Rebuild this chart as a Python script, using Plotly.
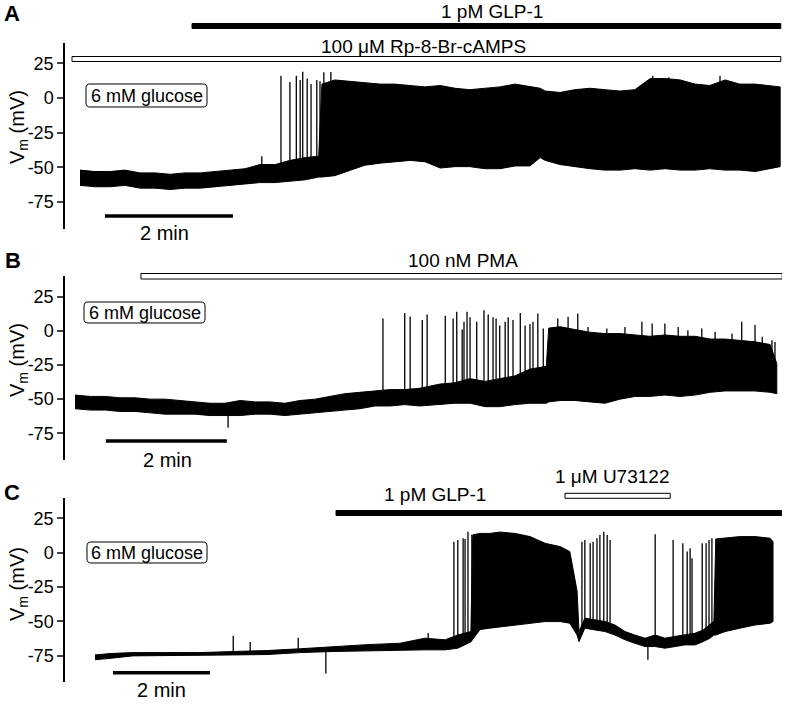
import plotly.graph_objects as go

# ---------------- data (time in min, Vm in mV) ----------------
a_time = [0, 0.23, 0.47, 0.70, 0.94, 1.17, 1.41, 1.64, 1.88, 2.11, 2.34, 2.58, 2.81, 3.05, 3.28, 3.52, 3.73, 3.78,
          3.98, 4.22, 4.45, 4.69, 4.92, 5.16, 5.39, 5.63, 5.86, 6.09, 6.33, 6.56, 6.80, 7.03, 7.19, 7.27, 7.50, 7.73,
          7.97, 8.20, 8.44, 8.67, 8.91, 9.14, 9.38, 9.61, 9.84, 10.08, 10.31, 10.55, 10.78, 10.94]
a_low = [-63, -64, -64, -63, -65, -65, -66, -65, -65, -64, -63, -62, -61, -61, -60, -59, -57, -57, -56, -52,
         -48.5, -47, -46, -45, -46, -50.5, -49.5, -49.5, -51, -51, -49, -49, -43, -45, -48, -49.5, -51, -52, -52, -51,
         -52, -51, -52, -52, -51, -52, -52, -53, -51, -49.5]
a_high = [-52, -53, -53, -52, -54, -54, -55, -54, -54, -53, -52, -51, -48, -48, -45, -43, -42, 10, 13, 12,
          11, 10, 10, 9, 8, 9, 7, 6, 7, 8, 10, 8, 7, 5, 4, 6, 7, 6, 5, 6,
          14, 14, 13, 10, 9, 13, 10, 10, 9, 8]
a_spike_t = [2.84, 3.14, 3.28, 3.38, 3.44, 3.48, 3.55, 3.61, 3.70, 3.75, 3.81, 3.92, 4.05, 8.95, 9.20, 10.0]
a_spike_base = [-52, -50, -50, -50, -49, -49, -49, -48, -48, -48, -48, -45, -45, -45, -45, -45]
a_spike_peak = [-42, 16, 11.5, 16, 13, 19, 14, 10, 13, 12, 18.5, 18.7, 13, 16, 15, 16]

b_time = [0, 0.25, 0.50, 0.74, 0.99, 1.24, 1.49, 1.74, 1.98, 2.23, 2.48, 2.73, 2.98, 3.22, 3.47, 3.72, 3.97,
          4.21, 4.46, 4.71, 4.96, 5.21, 5.45, 5.70, 6.03, 6.28, 6.53, 6.78, 7.02, 7.27, 7.52, 7.79, 7.83, 8.02,
          8.26, 8.51, 8.76, 9.01, 9.26, 9.50, 9.75, 10.00, 10.25, 10.50, 10.74, 10.99, 11.24, 11.49, 11.60]
b_low = [-57, -58, -58, -59, -59, -60, -61, -61, -61, -62, -62, -62, -61, -61, -62, -61, -60, -59, -58, -57,
         -55, -55, -54, -55, -54, -53, -53, -55.5, -55.5, -54, -53, -53, -52, -51, -51, -52, -53, -50, -48, -48,
         -47, -48, -47, -45, -44, -44, -44, -45, -46]
b_high = [-47, -48, -48, -49, -49, -50, -50, -51, -52, -53, -53, -51, -52, -52, -53, -51, -50, -48, -46, -45,
          -44, -43, -43, -42, -39, -38, -35, -37, -35, -33, -28, -26, 2, 3, 1, -1, -2, -2, -3, -4,
          -3, -4, -4, -6, -6, -7, -8, -10, -24]
b_spike_t = [2.53, 5.09, 5.45, 5.54, 5.74, 5.82, 6.12, 6.25, 6.31, 6.40, 6.43, 6.48, 6.53, 6.64, 6.76, 6.83,
             6.91, 6.96, 7.02, 7.11, 7.16, 7.24, 7.36, 7.44, 7.52, 7.57, 7.65, 7.74,
             7.98, 8.15, 8.31, 8.48, 8.79, 9.09, 9.37, 9.54, 9.75, 9.97, 10.13, 10.36, 10.58, 10.86, 11.02,
             11.24, 11.36, 11.52, 11.57]
b_spike_base = [-58, -45, -44, -44, -44, -44, -42, -42, -42, -40, -40, -40, -40, -40, -40, -40,
                -40, -40, -38, -38, -38, -38, -35, -35, -33, -33, -30, -28,
                -40, -40, -40, -40, -40, -40, -40, -40, -40, -40, -40, -40, -40, -40, -40,
                -40, -40, -40, -40]
b_spike_peak = [-71, 9, 13, 10.5, 8, 12, 11, 9, 14, 1, 6.6, 14, 10, 6.6, 15, 12,
                10, 9, 4, 6.6, 10, 8, 13, 4, 5, 6.6, 12.7, 1.7,
                9.1, 10.3, 12.7, 2.9, 1.7, 2.9, 6.6, 5.3, 5.3, 2.9, 0.5, 1.7, -0.7, -2, 6.6,
                4.2, -4.4, -6.9, -8.1]

c_time = [0, 0.31, 0.78, 1.48, 2.16, 2.85, 3.55, 4.23, 4.91, 5.61, 6.29, 6.80, 7.22, 7.48, 7.75, 7.79, 7.94,
          8.14, 8.35, 8.66, 8.97, 9.28, 9.59, 9.79, 9.94, 9.98, 10.10, 10.31, 10.52, 10.72, 10.93, 11.13, 11.34,
          11.55, 11.75, 11.96, 12.16, 12.37, 12.54, 12.68, 12.76, 12.80, 12.99, 13.30, 13.61, 13.92, 13.98]
c_low = [-78, -77, -75.2, -75.2, -74.7, -74.5, -74.2, -72.8, -72, -71.5, -71, -70.8, -70.8, -69.6, -65, -63, -56,
         -55, -54, -52.7, -51.4, -50.2, -50.2, -51.4, -60, -64.8, -55, -56.3, -57.5, -60, -63.5, -66, -68.4,
         -68.4, -69.6, -68.4, -67.2, -67.2, -64.8, -62.3, -60, -60, -57.5, -55, -52.7, -51.4, -50.2]
c_high = [-74.5, -73.5, -72.8, -73, -72.8, -72, -71.3, -70, -68.4, -67, -66, -62.3, -63.5, -60, -57.5, 13, 14,
          14, 15, 14, 11.7, 6.8, 4.4, 0.8, -28, -57.5, -47.7, -49, -50.2, -52.7, -57.5, -60, -62.3,
          -60, -62.3, -61, -60, -58.7, -56.3, -52.7, -50, 10, 10.5, 11.7, 11.7, 10.5, 8]
c_spike_t = [2.85, 3.20, 4.19, 4.76, 6.87, 7.40, 7.48, 7.59, 7.63, 7.69, 7.77,
             10.04, 10.10, 10.21, 10.27, 10.35, 10.41, 10.49, 10.56, 10.62,
             11.40, 11.55, 11.92, 12.12, 12.21, 12.27, 12.31, 12.52, 12.60, 12.66, 12.72]
c_spike_base = [-73, -72, -70, -70, -66, -62, -62, -61, -61, -60, -60,
                -55, -55, -55, -55, -56, -56, -57, -57, -58,
                -65, -64, -65, -64, -64, -64, -64, -62, -62, -60, -60]
c_spike_peak = [-60.6, -65, -62, -88, -58.5, 8, 9.2, 10.4, 10, 15.3, 13,
                8, 9.2, 6.8, 8, 10.5, 12.9, 15.3, 12.9, 9.2,
                -78, 13.4, 9.2, 6.8, 0.8, 3.2, -4, 6.8, 6.8, 9.2, 10.5]

# treatments
a_treat_label = ["1 pM GLP-1", "100 μM Rp-8-Br-cAMPS"]
a_treat_start = [1.75, -0.125]
a_treat_end = [10.95, 10.95]
a_treat_filled = [True, False]
b_treat_label = ["100 nM PMA"]
b_treat_start = [1.09]
b_treat_end = [11.69]
b_treat_filled = [False]
c_treat_label = ["1 pM GLP-1", "1 μM U73122"]
c_treat_start = [4.97, 9.69]
c_treat_end = [14.16, 11.86]
c_treat_filled = [True, False]

tick_vals = [-75, -50, -25, 0, 25]
tick_text = ["-75", "-50", "-25", "0", "25"]
scale_bar_min = 2
condition_text = "6 mM glucose"
panel_letters = ["A", "B", "C"]

# ---------------- layout geometry (pixels) ----------------
W, H = 785, 724
ML, MR = 65, 3
PW = W - ML - MR
FONT = "Liberation Sans, Arial, Helvetica, sans-serif"


def fx(X):
    return (X - ML) / PW


def fy(Y):
    return 1 - Y / H


panels = [
    dict(t=a_time, lo=a_low, hi=a_high, st=a_spike_t, sb=a_spike_base, sp=a_spike_peak,
         x0px=80, pxmin=64, yr=[-94.46, 39.64], ypx=(43, 229),
         tl=a_treat_label, ts=a_treat_start, te=a_treat_end, tf=a_treat_filled,
         barpx=[(23.5, 28.5), (56.5, 61.5)], txt=[(492, 12), (423, 46)],
         sb_start=0.39, sb_y=-85.1, sbtxt=(164, 233), gbox=(86, 84, 207, 107), letter=(12, 13), ytitle=(18, 127)),
    dict(t=b_time, lo=b_low, hi=b_high, st=b_spike_t, sb=b_spike_base, sp=b_spike_peak,
         x0px=75, pxmin=60.5, yr=[-94.55, 40.15], ypx=(276, 460),
         tl=b_treat_label, ts=b_treat_start, te=b_treat_end, tf=b_treat_filled,
         barpx=[(273.5, 279)], txt=[(463, 261)],
         sb_start=0.51, sb_y=-80.6, sbtxt=(167, 460), gbox=(84, 302, 205, 323), letter=(13, 260), ytitle=(18, 360)),
    dict(t=c_time, lo=c_low, hi=c_high, st=c_spike_t, sb=c_spike_base, sp=c_spike_peak,
         x0px=95, pxmin=48.5, yr=[-94.0, 39.8], ypx=(498, 681.7),
         tl=c_treat_label, ts=c_treat_start, te=c_treat_end, tf=c_treat_filled,
         barpx=[(510.5, 515.5), (493.3, 498.3)], txt=[(435, 494), (612, 477)],
         sb_start=0.37, sb_y=-87.4, sbtxt=(161, 690), gbox=(87, 542, 207, 563), letter=(12, 492), ytitle=(18, 584)),
]

fig = go.Figure()
shapes = []
annotations = []


def note(X, Y, text, size, angle=0):
    annotations.append(dict(x=fx(X), y=fy(Y), xref="paper", yref="paper", text=text, showarrow=False,
                            xanchor="center", yanchor="middle", textangle=angle,
                            font=dict(size=size, color="black", family=FONT)))


for i, p in enumerate(panels):
    k = "" if i == 0 else str(i + 1)
    xa, ya = "x" + k, "y" + k
    # membrane potential envelope
    fig.add_trace(go.Scatter(
        x=list(p["t"]) + list(p["t"])[::-1],
        y=list(p["hi"]) + list(p["lo"])[::-1],
        fill="toself", fillcolor="black", mode="lines",
        line=dict(color="black", width=1), xaxis=xa, yaxis=ya, hoverinfo="skip", showlegend=False))
    # individual action potentials
    sx, sy = [], []
    for t, b, pk in zip(p["st"], p["sb"], p["sp"]):
        sx += [t, t, None]
        sy += [b, pk, None]
    fig.add_trace(go.Scatter(x=sx, y=sy, mode="lines", line=dict(color="black", width=1.3),
                             xaxis=xa, yaxis=ya, hoverinfo="skip", showlegend=False))
    # 2 min scale bar
    fig.add_trace(go.Scatter(x=[p["sb_start"], p["sb_start"] + scale_bar_min], y=[p["sb_y"], p["sb_y"]],
                             mode="lines", line=dict(color="black", width=3.5),
                             xaxis=xa, yaxis=ya, hoverinfo="skip", showlegend=False, cliponaxis=False))
    note(*p["sbtxt"], f"{scale_bar_min} min", 20)
    # treatment bars
    for j, (lab, s, e, filled) in enumerate(zip(p["tl"], p["ts"], p["te"], p["tf"])):
        y0, y1 = p["barpx"][j]
        shapes.append(dict(type="rect", xref=xa, yref="paper", x0=s, x1=e, y0=fy(y1), y1=fy(y0),
                           fillcolor="black" if filled else "white",
                           line=dict(color="black", width=1)))
        note(*p["txt"][j], lab, 19)
    # glucose box (rounded)
    X0, Y0, X1, Y1 = p["gbox"]
    r = 4

    def P(X, Y):
        return f"{fx(X):.5f},{fy(Y):.5f}"
    path = (f"M {P(X0 + r, Y0)} L {P(X1 - r, Y0)} Q {P(X1, Y0)} {P(X1, Y0 + r)} "
            f"L {P(X1, Y1 - r)} Q {P(X1, Y1)} {P(X1 - r, Y1)} L {P(X0 + r, Y1)} "
            f"Q {P(X0, Y1)} {P(X0, Y1 - r)} L {P(X0, Y0 + r)} Q {P(X0, Y0)} {P(X0 + r, Y0)} Z")
    shapes.append(dict(type="path", xref="paper", yref="paper", path=path,
                       line=dict(color="black", width=1), fillcolor="white"))
    note((X0 + X1) / 2, (Y0 + Y1) / 2 + 0.5, condition_text, 18)
    note(*p["letter"], f"<b>{panel_letters[i]}</b>", 22)
    note(*p["ytitle"], "V<sub>m</sub> (mV)", 20, angle=-90)
    # axes
    x_lo = (ML - p["x0px"]) / p["pxmin"]
    x_hi = (W - MR - p["x0px"]) / p["pxmin"]
    fig.layout["xaxis" + k] = dict(domain=[0, 1], range=[x_lo, x_hi], visible=False, anchor=ya, fixedrange=True)
    fig.layout["yaxis" + k] = dict(domain=[fy(p["ypx"][1]), fy(p["ypx"][0])], range=p["yr"], anchor=xa,
                                   tickvals=tick_vals, ticktext=tick_text, ticks="outside", ticklen=6,
                                   tickwidth=1.5, showline=True, linewidth=1.5, linecolor="black",
                                   showgrid=False, zeroline=False, fixedrange=True,
                                   tickfont=dict(size=18, color="black", family=FONT))

fig.update_layout(width=W, height=H, autosize=False, margin=dict(l=ML, r=MR, t=0, b=0),
                  paper_bgcolor="white", plot_bgcolor="white", showlegend=False,
                  shapes=shapes, annotations=annotations, font=dict(family=FONT, color="black"))

fig.write_html("out.html", config={"displayModeBar": False},
               post_script="document.body.style.margin='0px';")
